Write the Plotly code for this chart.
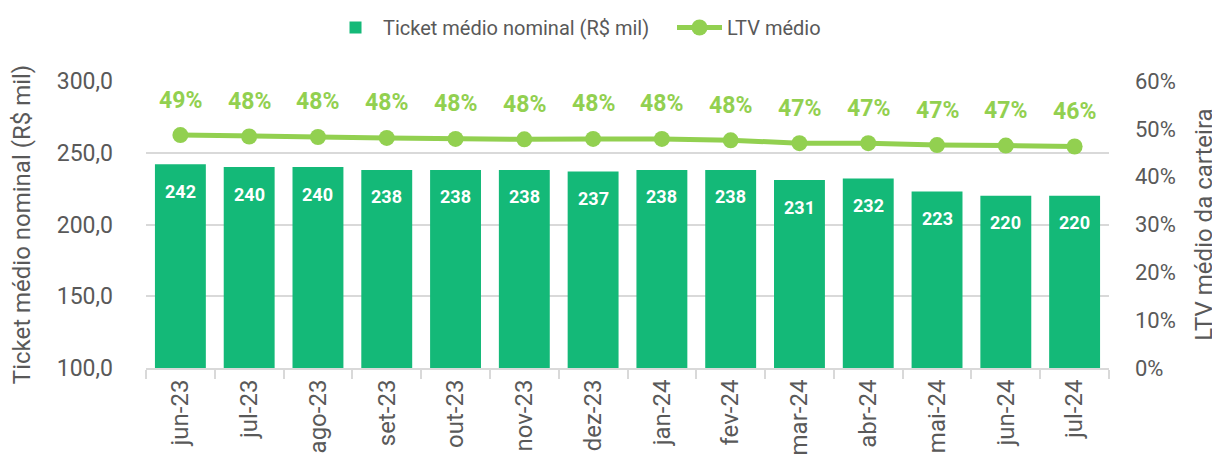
import plotly.graph_objects as go

categories = ["jun-23", "jul-23", "ago-23", "set-23", "out-23", "nov-23", "dez-23",
              "jan-24", "fev-24", "mar-24", "abr-24", "mai-24", "jun-24", "jul-24"]
ticket = [242, 240, 240, 238, 238, 238, 237, 238, 238, 231, 232, 223, 220, 220]
ltv = [48.7, 48.4, 48.3, 48.1, 47.9, 47.8, 47.9, 47.9, 47.6, 47.0, 47.0, 46.6, 46.5, 46.3]
ltv_labels = ["49%", "48%", "48%", "48%", "48%", "48%", "48%", "48%", "48%",
              "47%", "47%", "47%", "47%", "46%"]

FONT = "Roboto"
BAR = "#14B978"
LINE = "#92D050"
GRAY = "#595959"
GRID = "#D9D9D9"

fig = go.Figure()
fig.add_trace(go.Bar(
    x=categories, y=ticket, name="Ticket médio nominal (R$ mil)",
    marker=dict(color=BAR, line=dict(width=0)),
))
fig.add_trace(go.Scatter(
    x=categories, y=ltv, name="LTV médio", yaxis="y2", mode="lines+markers",
    line=dict(color=LINE, width=5), marker=dict(color=LINE, size=16),
))
for c, v in zip(categories, ticket):
    fig.add_annotation(x=c, y=v, yref="y", text=str(v), showarrow=False, yshift=-27,
                       font=dict(color="white", size=18, family=FONT, weight="bold"))
for c, v, t in zip(categories, ltv, ltv_labels):
    fig.add_annotation(x=c, y=v, yref="y2", text=t, showarrow=False, yshift=35,
                       font=dict(color=LINE, size=23, family=FONT, weight="bold"))

fig.update_layout(
    width=1220, height=461,
    margin=dict(l=138, r=119, t=73, b=101),
    paper_bgcolor="white", plot_bgcolor="white",
    separators=",.",
    bargap=0.26,
    font=dict(family=FONT, color=GRAY),
    legend=dict(orientation="h", x=0.189, xanchor="left", y=1.0, yref="container",
                yanchor="top", font=dict(size=20, color=GRAY), itemwidth=45,
                entrywidth=284),
    xaxis=dict(range=[-0.5, 13.5], tickangle=-90, tickfont=dict(size=24, color=GRAY),
               showline=True, linecolor=GRID, linewidth=2, ticks="outside",
               tickson="boundaries", ticklen=9, tickcolor=GRID, tickwidth=2,
               showgrid=False, automargin=False),
    yaxis=dict(range=[100, 300], dtick=50, tickformat=".1f", showgrid=True,
               gridcolor=GRID, gridwidth=2, zeroline=False, automargin=False,
               ticklabelstandoff=32,
               tickfont=dict(size=23, color=GRAY),
               title=dict(text="Ticket médio nominal (R$ mil)", font=dict(size=24, color=GRAY),
                          standoff=19)),
    yaxis2=dict(range=[0, 60], dtick=10, ticksuffix="%", overlaying="y", side="right",
                showgrid=False, zeroline=False, automargin=False, ticklabelstandoff=25,
                tickfont=dict(size=22, color=GRAY),
                title=dict(text="LTV médio da carteira", font=dict(size=24, color=GRAY),
                           standoff=20)),
)

fig.write_html("out.html")
